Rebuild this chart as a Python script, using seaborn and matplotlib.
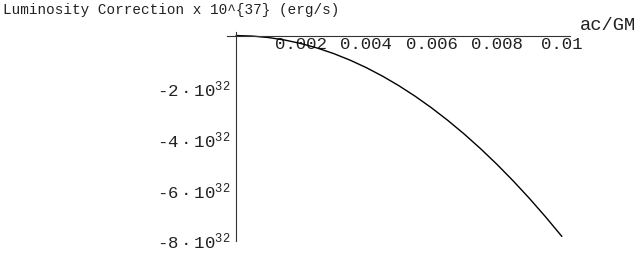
import matplotlib
matplotlib.use("Agg")
import matplotlib.pyplot as plt
import matplotlib.transforms as mtransforms
import seaborn as sns
import pandas as pd
from matplotlib.ticker import FixedLocator, MultipleLocator

# Data (x in ac/GM, y in luminosity correction units)
ac_gm = [0.0, 0.0005, 0.001, 0.0015, 0.002, 0.0025, 0.003, 0.0035, 0.004, 0.0045,
         0.005, 0.0055, 0.006, 0.0065, 0.007, 0.0075, 0.008, 0.0085, 0.009, 0.0095, 0.01]
lum_corr = [0.0, -0.020e32, -0.079e32, -0.178e32, -0.316e32, -0.494e32, -0.711e32,
            -0.968e32, -1.264e32, -1.600e32, -1.975e32, -2.390e32, -2.844e32,
            -3.338e32, -3.871e32, -4.444e32, -5.056e32, -5.708e32, -6.399e32,
            -7.130e32, -7.900e32]
x_ticks = [0.002, 0.004, 0.006, 0.008, 0.01]
x_tick_labels = ["0.002", "0.004", "0.006", "0.008", "0.01"]
y_ticks = [-2e32, -4e32, -6e32, -8e32]
y_tick_labels = ["-2$\\,$·$\\,$10$^{32}$", "-4$\\,$·$\\,$10$^{32}$",
                 "-6$\\,$·$\\,$10$^{32}$", "-8$\\,$·$\\,$10$^{32}$"]
title_text = "Luminosity Correction x 10^{37} (erg/s)"
x_label = "ac/GM"

sns.set_style("white")
plt.rcParams["font.family"] = ["Liberation Mono", "DejaVu Sans Mono"]
plt.rcParams["mathtext.default"] = "regular"

df = pd.DataFrame({"x": ac_gm, "y": lum_corr})

fig = plt.figure(figsize=(6.42, 2.54), dpi=100)
ax = fig.add_axes([227 / 642, 1 - 241 / 254, 343 / 642, 209 / 254])
sns.lineplot(data=df, x="x", y="y", ax=ax, color="black", linewidth=1.0)

ax.set_xlim(-0.00028, 0.01025)
ax.set_ylim(-8.08e32, 0.14e32)

for s in ["top", "right"]:
    ax.spines[s].set_visible(False)
ax.spines["left"].set_position(("data", 0))
ax.spines["bottom"].set_position(("data", 0))
for s in ["left", "bottom"]:
    ax.spines[s].set_color("#333333")
    ax.spines[s].set_linewidth(0.8)

ax.xaxis.set_major_locator(FixedLocator(x_ticks))
ax.set_xticklabels(x_tick_labels)
ax.xaxis.set_minor_locator(MultipleLocator(0.0005))
ax.yaxis.set_major_locator(FixedLocator(y_ticks))
ax.set_yticklabels(y_tick_labels)
ax.yaxis.set_minor_locator(MultipleLocator(0.5e32))

ax.tick_params(axis="both", which="major", direction="in", length=3.6, width=0.7,
               color="#333333", labelsize=12.5, labelcolor="#222222")
ax.tick_params(axis="both", which="minor", direction="in", length=2.0, width=0.6,
               color="#333333")
ax.tick_params(axis="x", which="major", pad=1)
ax.tick_params(axis="y", which="major", pad=4)

shift = mtransforms.ScaledTranslation(0, -1.5 / 100, fig.dpi_scale_trans)
for lab in ax.get_yticklabels():
    lab.set_transform(lab.get_transform() + shift)

ax.set_xlabel("")
ax.set_ylabel("")
fig.text(3 / 642, 1 - 10 / 254, title_text, ha="left", va="center", fontsize=10.4,
         color="#222222")
fig.text(580 / 642, 1 - 26 / 254, x_label, ha="left", va="center", fontsize=13.5,
         color="#222222")

fig.savefig("out.png", dpi=100)
